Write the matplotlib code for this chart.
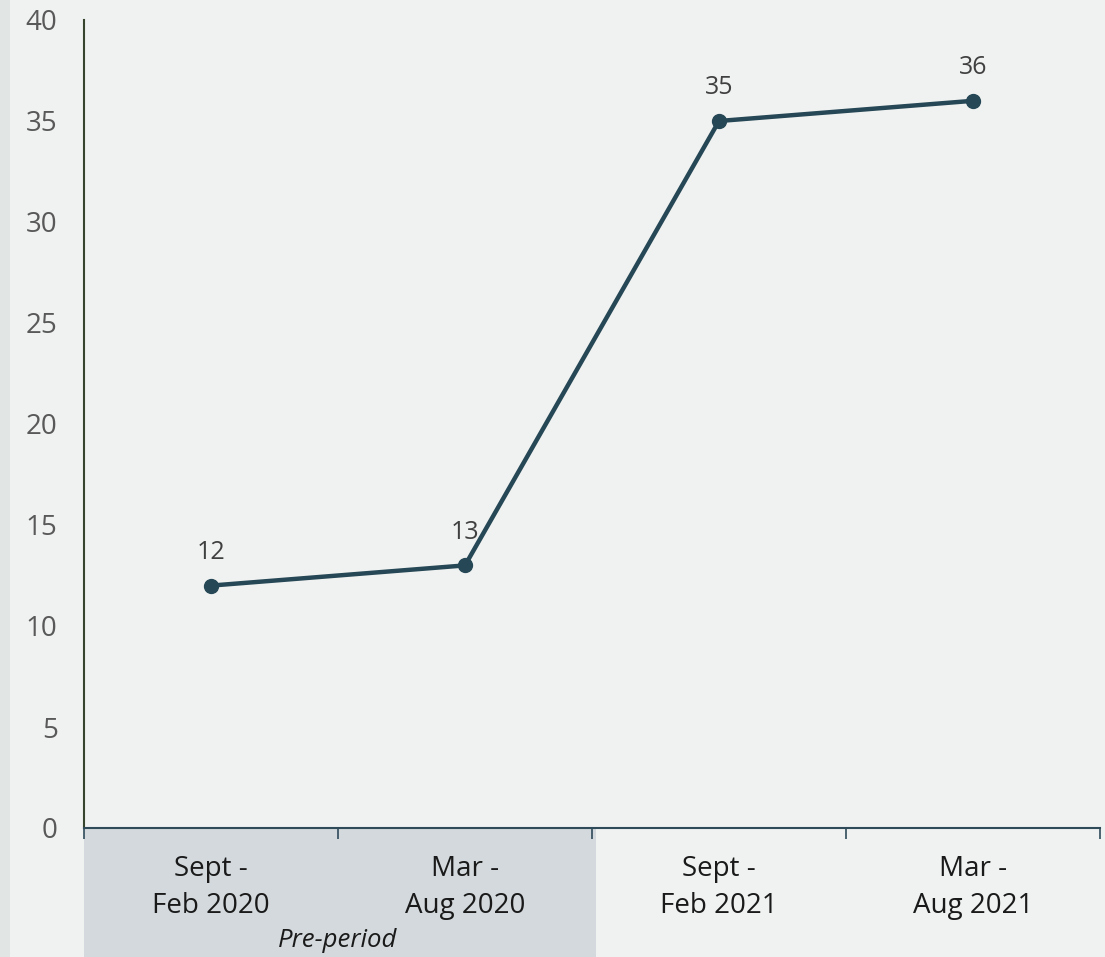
import matplotlib.pyplot as plt
from matplotlib.patches import Rectangle

periods = ["Sept -\nFeb 2020", "Mar -\nAug 2020", "Sept -\nFeb 2021", "Mar -\nAug 2021"]
values = [12, 13, 35, 36]
yticks = [0, 5, 10, 15, 20, 25, 30, 35, 40]
pre_label = "Pre-period"

plt.rcParams['font.family'] = ['Open Sans', 'DejaVu Sans']

bg = '#f0f2f1'
fig = plt.figure(figsize=(11.05, 9.57), dpi=100, facecolor=bg)
ax = fig.add_axes([84 / 1105, 1 - 828 / 957, (1100 - 84) / 1105, (828 - 20) / 957])
ax.set_facecolor(bg)

# left strip
fig.patches.append(Rectangle((0, 0), 10 / 1105, 1, transform=fig.transFigure,
                             facecolor='#e1e6e5', edgecolor='none', zorder=-1))
# pre-period shading under the axis
fig.patches.append(Rectangle((84 / 1105, 0), (596 - 84) / 1105, (957 - 829) / 957,
                             transform=fig.transFigure, facecolor='#d3d9dc',
                             edgecolor='none', zorder=-1))

x = list(range(len(values)))
ax.plot(x, values, color='#264755', lw=3.2, marker='o', markersize=10, zorder=3)
for xi, v in zip(x, values):
    ax.annotate(str(v), (xi, v), xytext=(0, 15), textcoords='offset points',
                ha='center', va='bottom', fontsize=18, color='#404040')

ax.set_xlim(-0.5, 3.5)
ax.set_ylim(0, 40)
ax.set_yticks(yticks)
ax.set_yticklabels([str(t) for t in yticks], fontsize=20, color='#595959')
ax.tick_params(axis='y', length=0, pad=19)

ax.set_xticks([-0.5, 0.5, 1.5, 2.5, 3.5])
ax.set_xticklabels([])
ax.tick_params(axis='x', length=8, width=1.2, color='#2f4b5a', direction='out')
for xi, lab in zip(x, periods):
    ax.text(xi, -0.033, lab, transform=ax.get_xaxis_transform(), ha='center', va='top',
            fontsize=20, color='#1a1a1a', linespacing=1.45)
ax.text(0.5, -0.124, pre_label, transform=ax.get_xaxis_transform(), ha='center', va='top',
        fontsize=18.5, style='italic', color='#1a1a1a')

for s in ['top', 'right']:
    ax.spines[s].set_visible(False)
ax.spines['left'].set_color('#38452e')
ax.spines['left'].set_linewidth(1.5)
ax.spines['bottom'].set_color('#2f4b5a')
ax.spines['bottom'].set_linewidth(1.5)

fig.savefig('out.png', dpi=100, facecolor=bg)
